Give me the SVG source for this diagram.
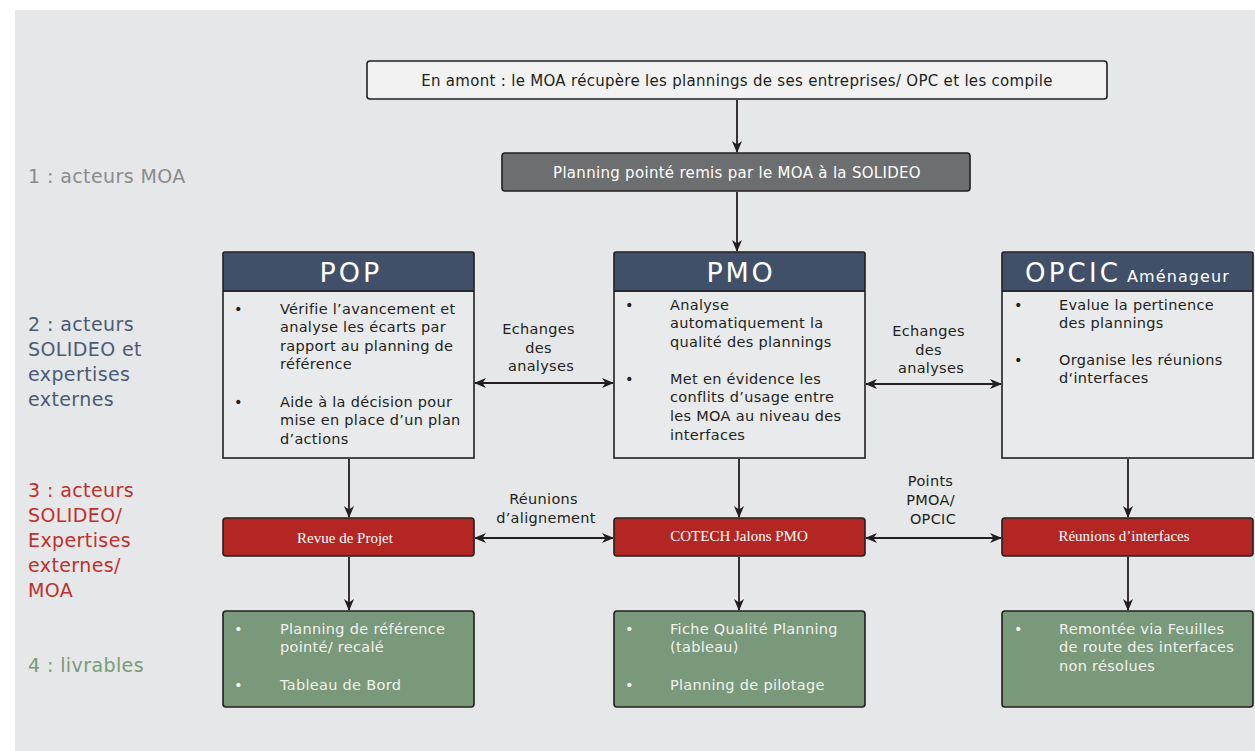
<svg xmlns="http://www.w3.org/2000/svg" width="1255" height="751" viewBox="0 0 1255 751">
  <defs>
    <marker id="arrow" viewBox="0 0 12 10" refX="11" refY="5" markerWidth="12" markerHeight="10" markerUnits="userSpaceOnUse" orient="auto-start-reverse">
      <path d="M0,0 L12,5 L0,10 L3.5,5 z" fill="#231f20"/>
    </marker>
  </defs>
  <style>
    .bg { fill: #e6e7e8; }
    .box { stroke: #231f20; stroke-width: 1.6; }
    .plain { fill: #f2f2f3; }
    .grey { fill: #6d6e70; }
    .head { fill: #3f5068; }
    .body { fill: #e9eaeb; }
    .red { fill: #b42623; }
    .green { fill: #7a987a; }
    .t { font-family: "DejaVu Sans", "Liberation Sans", sans-serif; font-size: 14.5px; letter-spacing: 0.3px; fill: #231f20; }
    .top { font-family: "DejaVu Sans", "Liberation Sans", sans-serif; font-size: 15px; letter-spacing: 0.3px; fill: #231f20; }
    .tw { font-family: "DejaVu Sans", "Liberation Sans", sans-serif; font-size: 15px; letter-spacing: 0.3px; fill: #ffffff; }
    .tg { font-family: "DejaVu Sans", "Liberation Sans", sans-serif; font-size: 14.5px; letter-spacing: 0.3px; fill: #f1f3ef; }
    .title { font-family: "DejaVu Sans", "Liberation Sans", sans-serif; font-size: 27px; fill: #ffffff; }
    .serif { font-family: "Liberation Serif", serif; font-size: 15px; fill: #ffffff; }
    .lab { font-family: "DejaVu Sans", "Liberation Sans", sans-serif; font-size: 19px; letter-spacing: 0.4px; }
    .conn { stroke: #231f20; stroke-width: 1.8; fill: none; }
  </style>

  <rect class="bg" x="15" y="10" width="1240" height="741"/>

  <!-- row labels -->
  <g id="row-labels">
    <text class="lab" x="28" y="183" fill="#8a8b8d">1 : acteurs MOA</text>
    <text class="lab" fill="#4a5b78">
      <tspan x="28" y="331">2 : acteurs</tspan>
      <tspan x="28" y="356">SOLIDEO et</tspan>
      <tspan x="28" y="381">expertises</tspan>
      <tspan x="28" y="406">externes</tspan>
    </text>
    <text class="lab" fill="#c0302d">
      <tspan x="28" y="497">3 : acteurs</tspan>
      <tspan x="28" y="522">SOLIDEO/</tspan>
      <tspan x="28" y="547">Expertises</tspan>
      <tspan x="28" y="572">externes/</tspan>
      <tspan x="28" y="597">MOA</tspan>
    </text>
    <text class="lab" x="28" y="672" fill="#7a9a7a">4 : livrables</text>
  </g>

  <!-- connectors -->
  <g id="connectors">
    <line class="conn" x1="737" y1="100" x2="737" y2="152" marker-end="url(#arrow)"/>
    <line class="conn" x1="737" y1="192" x2="737" y2="251" marker-end="url(#arrow)"/>
    <line class="conn" x1="475" y1="383" x2="613" y2="383" marker-start="url(#arrow)" marker-end="url(#arrow)"/>
    <line class="conn" x1="866" y1="384" x2="1001" y2="384" marker-start="url(#arrow)" marker-end="url(#arrow)"/>
    <line class="conn" x1="349" y1="459" x2="349" y2="517" marker-end="url(#arrow)"/>
    <line class="conn" x1="739" y1="459" x2="739" y2="517" marker-end="url(#arrow)"/>
    <line class="conn" x1="1128" y1="459" x2="1128" y2="517" marker-end="url(#arrow)"/>
    <line class="conn" x1="475" y1="538" x2="613" y2="538" marker-start="url(#arrow)" marker-end="url(#arrow)"/>
    <line class="conn" x1="866" y1="538" x2="1001" y2="538" marker-start="url(#arrow)" marker-end="url(#arrow)"/>
    <line class="conn" x1="349" y1="557" x2="349" y2="610" marker-end="url(#arrow)"/>
    <line class="conn" x1="739" y1="557" x2="739" y2="610" marker-end="url(#arrow)"/>
    <line class="conn" x1="1128" y1="557" x2="1128" y2="610" marker-end="url(#arrow)"/>

    <text class="t" text-anchor="middle">
      <tspan x="541" y="334">Echanges</tspan>
      <tspan x="541" y="353">des</tspan>
      <tspan x="541" y="371">analyses</tspan>
    </text>
    <text class="t" text-anchor="middle">
      <tspan x="931" y="336">Echanges</tspan>
      <tspan x="931" y="355">des</tspan>
      <tspan x="931" y="373">analyses</tspan>
    </text>
    <text class="t" text-anchor="middle">
      <tspan x="546" y="504">Réunions</tspan>
      <tspan x="546" y="523">d’alignement</tspan>
    </text>
    <text class="t" text-anchor="middle">
      <tspan x="933" y="486">Points</tspan>
      <tspan x="933" y="505">PMOA/</tspan>
      <tspan x="933" y="524">OPCIC</tspan>
    </text>
  </g>

  <!-- upstream step -->
  <g id="amont">
    <rect class="box plain" x="367" y="61" width="740" height="38" rx="3"/>
    <text class="top" x="737" y="86" text-anchor="middle">En amont : le MOA récupère les plannings de ses entreprises/ OPC et les compile</text>
  </g>

  <g id="planning-pointe">
    <rect class="box grey" x="502" y="153" width="468" height="38" rx="3"/>
    <text class="tw" x="737" y="178" text-anchor="middle">Planning pointé remis par le MOA à la SOLIDEO</text>
  </g>

  <!-- actors -->
  <g id="pop">
    <rect class="box body" x="223" y="291" width="251" height="167"/>
    <rect class="box head" x="223" y="252" width="251" height="39" rx="2"/>
    <text class="title" x="351" y="282" text-anchor="middle" letter-spacing="3">POP</text>
    <text class="t">
      <tspan x="234" y="314">•</tspan>
      <tspan x="280" y="314">Vérifie l’avancement et</tspan>
      <tspan x="280" y="332">analyse les écarts par</tspan>
      <tspan x="280" y="351">rapport au planning de</tspan>
      <tspan x="280" y="369">référence</tspan>
      <tspan x="234" y="407">•</tspan>
      <tspan x="280" y="407">Aide à la décision pour</tspan>
      <tspan x="280" y="425">mise en place d’un plan</tspan>
      <tspan x="280" y="444">d’actions</tspan>
    </text>
  </g>

  <g id="pmo">
    <rect class="box body" x="614" y="291" width="251" height="167"/>
    <rect class="box head" x="614" y="252" width="251" height="39" rx="2"/>
    <text class="title" x="741" y="282" text-anchor="middle" letter-spacing="2.7">PMO</text>
    <text class="t">
      <tspan x="625" y="310">•</tspan>
      <tspan x="670" y="310">Analyse</tspan>
      <tspan x="670" y="328">automatiquement la</tspan>
      <tspan x="670" y="347">qualité des plannings</tspan>
      <tspan x="625" y="384">•</tspan>
      <tspan x="670" y="384">Met en évidence les</tspan>
      <tspan x="670" y="402">conflits d’usage entre</tspan>
      <tspan x="670" y="421">les MOA au niveau des</tspan>
      <tspan x="670" y="440">interfaces</tspan>
    </text>
  </g>

  <g id="opcic">
    <rect class="box body" x="1002" y="291" width="251" height="167"/>
    <rect class="box head" x="1002" y="252" width="251" height="39" rx="2"/>
    <text x="1025" y="282" fill="#ffffff" font-family="DejaVu Sans, Liberation Sans, sans-serif"><tspan font-size="26" letter-spacing="3.2">OPCIC</tspan><tspan x="1127" font-size="16" letter-spacing="1.1">Aménageur</tspan></text>
    <text class="t">
      <tspan x="1014" y="310">•</tspan>
      <tspan x="1059" y="310">Evalue la pertinence</tspan>
      <tspan x="1059" y="328">des plannings</tspan>
      <tspan x="1014" y="365">•</tspan>
      <tspan x="1059" y="365">Organise les réunions</tspan>
      <tspan x="1059" y="383">d‘interfaces</tspan>
    </text>
  </g>

  <!-- meetings -->
  <g id="revue-projet">
    <rect class="box red" x="223" y="518" width="251" height="38" rx="3"/>
    <text class="serif" x="345" y="543" text-anchor="middle">Revue de Projet</text>
  </g>
  <g id="cotech">
    <rect class="box red" x="614" y="518" width="251" height="38" rx="3"/>
    <text class="serif" x="739" y="541" text-anchor="middle">COTECH Jalons PMO</text>
  </g>
  <g id="reunions-interfaces">
    <rect class="box red" x="1002" y="518" width="251" height="38" rx="3"/>
    <text class="serif" x="1124" y="541" text-anchor="middle">Réunions d’interfaces</text>
  </g>

  <!-- deliverables -->
  <g id="livrables-pop">
    <rect class="box green" x="223" y="611" width="251" height="96" rx="3"/>
    <text class="tg">
      <tspan x="234" y="634">•</tspan>
      <tspan x="280" y="634">Planning de référence</tspan>
      <tspan x="280" y="652">pointé/ recalé</tspan>
      <tspan x="234" y="690">•</tspan>
      <tspan x="280" y="690">Tableau de Bord</tspan>
    </text>
  </g>
  <g id="livrables-pmo">
    <rect class="box green" x="614" y="611" width="251" height="96" rx="3"/>
    <text class="tg">
      <tspan x="625" y="634">•</tspan>
      <tspan x="670" y="634">Fiche Qualité Planning</tspan>
      <tspan x="670" y="652">(tableau)</tspan>
      <tspan x="625" y="690">•</tspan>
      <tspan x="670" y="690">Planning de pilotage</tspan>
    </text>
  </g>
  <g id="livrables-opcic">
    <rect class="box green" x="1002" y="611" width="251" height="96" rx="3"/>
    <text class="tg">
      <tspan x="1014" y="634">•</tspan>
      <tspan x="1059" y="634">Remontée via Feuilles</tspan>
      <tspan x="1059" y="652">de route des interfaces</tspan>
      <tspan x="1059" y="671">non résolues</tspan>
    </text>
  </g>
</svg>
